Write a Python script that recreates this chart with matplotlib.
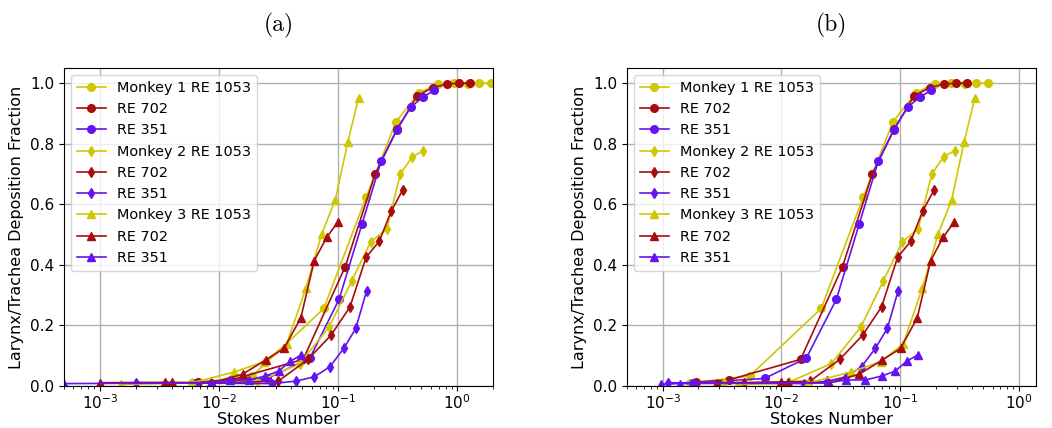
import numpy as np
import matplotlib
matplotlib.use('Agg')
import matplotlib.pyplot as plt

# Stokes numbers, panel (b), and deposition fractions (shared)
m1_1053_xa = [0.006, 0.019, 0.076, 0.172, 0.307, 0.48, 0.69, 0.94, 1.23, 1.54, 1.92]
m1_1053_xb = [0.0017, 0.0054, 0.0216, 0.0488, 0.0872, 0.136, 0.196, 0.267, 0.349, 0.437, 0.545]
m1_1053_y = [0.010, 0.033, 0.256, 0.623, 0.873, 0.969, 0.997, 1.0, 0.997, 1.0, 1.0]

m1_702_xa = [0.0067, 0.0127, 0.051, 0.115, 0.205, 0.315, 0.463, 0.625, 0.82, 1.045, 1.285]
m1_702_xb = [0.0019, 0.0036, 0.0145, 0.0327, 0.0582, 0.0895, 0.1315, 0.1775, 0.233, 0.297, 0.365]
m1_702_y = [0.013, 0.02, 0.088, 0.394, 0.70, 0.849, 0.959, 0.985, 0.997, 1.0, 1.0]

m1_351_xa = [0.0063, 0.0254, 0.058, 0.102, 0.159, 0.23, 0.311, 0.41, 0.515, 0.637]
m1_351_xb = [0.0018, 0.0072, 0.0162, 0.029, 0.0452, 0.0653, 0.0883, 0.1164, 0.146, 0.181]
m1_351_y = [0.01, 0.025, 0.092, 0.286, 0.535, 0.742, 0.846, 0.922, 0.953, 0.976]

m2_1053_xa = [0.006, 0.021, 0.0475, 0.084, 0.13, 0.188, 0.256, 0.334, 0.42, 0.521]
m2_1053_xb = [0.0033, 0.0116, 0.0263, 0.0465, 0.0719, 0.104, 0.1416, 0.1847, 0.2323, 0.288]
m2_1053_y = [0.01, 0.013, 0.074, 0.194, 0.346, 0.476, 0.518, 0.70, 0.757, 0.777]

m2_702_xa = [0.0086, 0.0315, 0.056, 0.0874, 0.126, 0.172, 0.222, 0.281, 0.35]
m2_702_xb = [0.0048, 0.0174, 0.031, 0.0483, 0.0697, 0.0951, 0.1228, 0.1554, 0.1936]
m2_702_y = [0.01, 0.016, 0.088, 0.168, 0.261, 0.425, 0.478, 0.579, 0.648]

m2_351_xa = [0.002, 0.028, 0.044, 0.063, 0.0857, 0.1116, 0.141, 0.174]
m2_351_xb = [0.0011, 0.0155, 0.0243, 0.0348, 0.0474, 0.0617, 0.078, 0.0962]
m2_351_y = [0.011, 0.008, 0.016, 0.03, 0.064, 0.124, 0.19, 0.315]

m3_1053_xa = [0.0015, 0.0059, 0.0134, 0.0239, 0.0371, 0.0538, 0.073, 0.095, 0.121, 0.149]
m3_1053_xb = [0.0043, 0.0169, 0.0383, 0.0684, 0.1061, 0.1539, 0.2088, 0.2717, 0.346, 0.426]
m3_1053_y = [0.005, 0.01, 0.046, 0.08, 0.139, 0.324, 0.502, 0.615, 0.807, 0.952]

m3_702_xa = [0.001, 0.0035, 0.004, 0.0088, 0.0158, 0.0247, 0.0352, 0.0487, 0.0632, 0.0804, 0.1]
m3_702_xb = [0.00286, 0.01, 0.0114, 0.0252, 0.0452, 0.0706, 0.1007, 0.1393, 0.1808, 0.23, 0.286]
m3_702_y = [0.011, 0.012, 0.012, 0.011, 0.039, 0.086, 0.124, 0.225, 0.414, 0.491, 0.542]

m3_351_xa = [0.00034, 0.0005, 0.0085, 0.0123, 0.0178, 0.0245, 0.0317, 0.0397, 0.049]
m3_351_xb = [0.00097, 0.0014, 0.0243, 0.0352, 0.0509, 0.07, 0.0907, 0.1135, 0.14]
m3_351_y = [0.006, 0.008, 0.01, 0.02, 0.02, 0.033, 0.049, 0.082, 0.102]

yel = '#cfc700'
red = '#a80c0c'
blu = '#6414f0'

series = [
    ('Monkey 1 RE 1053', 'o', yel, m1_1053_xa, m1_1053_xb, m1_1053_y),
    ('RE 702', 'o', red, m1_702_xa, m1_702_xb, m1_702_y),
    ('RE 351', 'o', blu, m1_351_xa, m1_351_xb, m1_351_y),
    ('Monkey 2 RE 1053', 'd', yel, m2_1053_xa, m2_1053_xb, m2_1053_y),
    ('RE 702', 'd', red, m2_702_xa, m2_702_xb, m2_702_y),
    ('RE 351', 'd', blu, m2_351_xa, m2_351_xb, m2_351_y),
    ('Monkey 3 RE 1053', '^', yel, m3_1053_xa, m3_1053_xb, m3_1053_y),
    ('RE 702', '^', red, m3_702_xa, m3_702_xb, m3_702_y),
    ('RE 351', '^', blu, m3_351_xa, m3_351_xb, m3_351_y),
]

fig = plt.figure(figsize=(10.52, 4.28), dpi=100)
axa = fig.add_axes([0.0608, 0.0981, 0.4078, 0.743])
axb = fig.add_axes([0.596, 0.0981, 0.389, 0.743])

for ax, col, title, xmax in [(axa, 3, '(a)', 2.0), (axb, 4, '(b)', 1.4)]:
    for s in series:
        ax.plot(s[col], s[5], marker=s[1], color=s[2], label=s[0],
                markersize=5.5, linewidth=1.2)
    ax.set_xscale('log')
    ax.set_xlim(5e-4, xmax)
    ax.set_ylim(0, 1.05)
    ax.set_axisbelow(True)
    ax.grid(True, color='#b0b0b0', linewidth=1.0)
    ax.tick_params(labelsize=11)
    ax.tick_params(axis='x', which='major', pad=1.5)
    ax.set_xlabel('Stokes Number', fontsize=11.5, labelpad=0)
    ax.set_ylabel('Larynx/Trachea Deposition Fraction', fontsize=11.5, labelpad=4)
    ax.set_title(title, fontsize=17, fontfamily='cmr10', pad=26)
    ax.legend(loc='upper left', fontsize=10.4)

plt.savefig('out.png', dpi=100)
